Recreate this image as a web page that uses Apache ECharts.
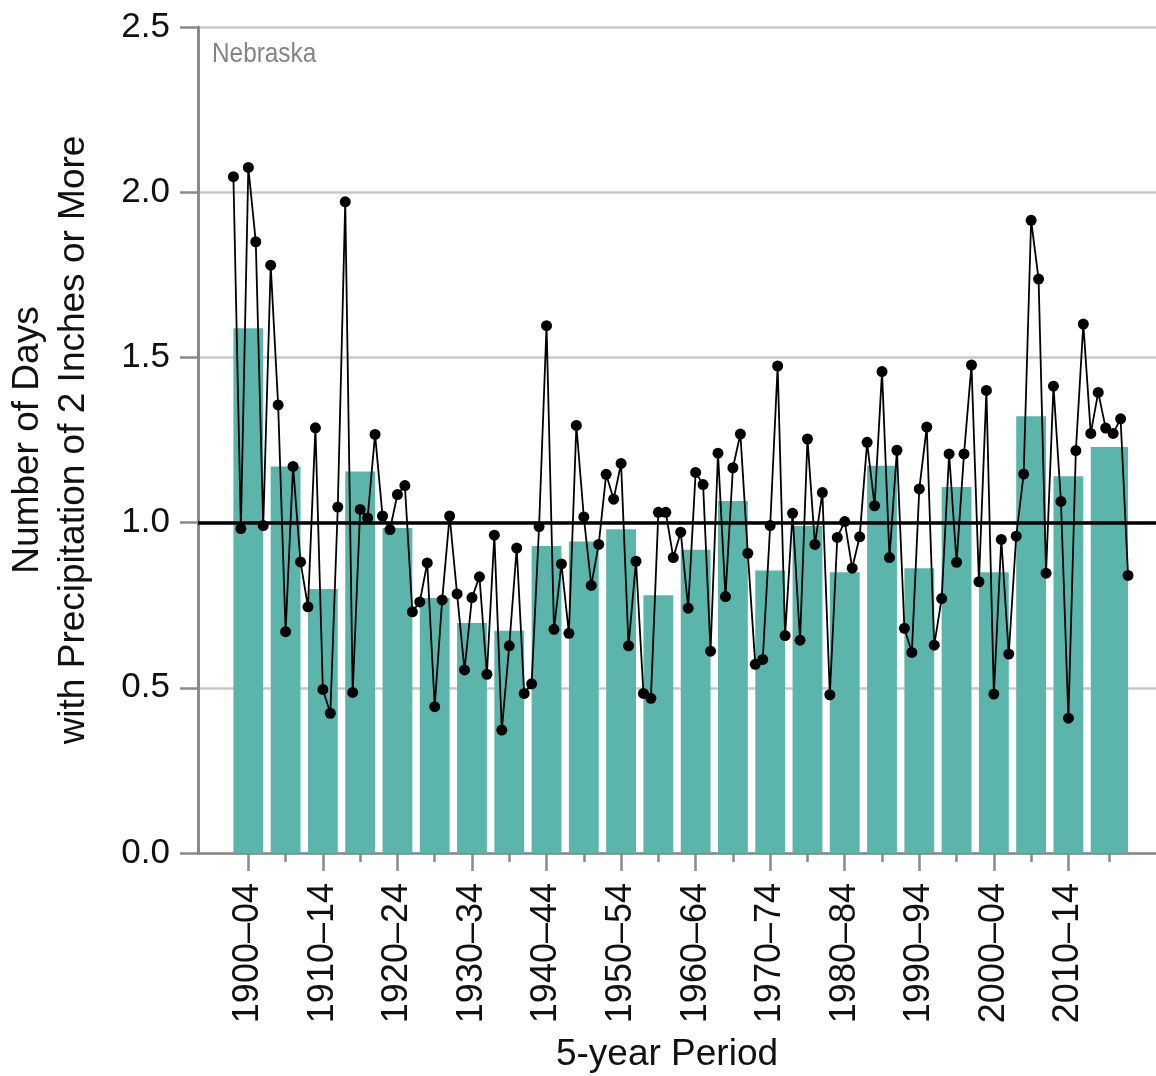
<!DOCTYPE html>
<html>
<head>
<meta charset="utf-8">
<script src="https://cdn.jsdelivr.net/npm/echarts@6/dist/echarts.min.js"></script>
<style>
html,body{margin:0;padding:0;background:#fff;}
#chart{width:1156px;height:1076px;}
</style>
</head>
<body>
<div id="chart"></div>
<script>
// ---- data ----
const stateName = "Nebraska";
const firstYear = 1900;
const annualValues = [
  2.047,0.982,2.075,1.850,0.991, 1.779,1.356,0.670,1.170,0.881,
  0.745,1.287,0.495,0.423,1.047, 1.971,0.486,1.040,1.014,1.267,
  1.020,0.979,1.085,1.112,0.730, 0.760,0.878,0.443,0.766,1.020,
  0.784,0.554,0.773,0.836,0.541, 0.962,0.372,0.627,0.923,0.483,
  0.512,0.988,1.596,0.677,0.875, 0.665,1.294,1.017,0.810,0.934,
  1.146,1.071,1.179,0.627,0.883, 0.483,0.468,1.031,1.031,0.894,
  0.971,0.741,1.152,1.115,0.611, 1.210,0.776,1.166,1.268,0.907,
  0.571,0.586,0.991,1.474,0.658, 1.028,0.644,1.253,0.934,1.091,
  0.479,0.955,1.003,0.862,0.957, 1.243,1.051,1.457,0.894,1.219,
  0.680,0.607,1.102,1.289,0.629, 0.770,1.208,0.880,1.208,1.477,
  0.821,1.400,0.481,0.949,0.602, 0.959,1.147,1.915,1.737,0.847,
  1.413,1.064,0.408,1.218,1.601, 1.270,1.394,1.286,1.270,1.314,
  0.840
];
const periodStarts = [1900,1905,1910,1915,1920,1925,1930,1935,1940,1945,1950,1955,
                      1960,1965,1970,1975,1980,1985,1990,1995,2000,2005,2010,2015];
const periodEnds   = [1904,1909,1914,1919,1924,1929,1934,1939,1944,1949,1954,1959,
                      1964,1969,1974,1979,1984,1989,1994,1999,2004,2009,2014,2020];
const periodValues = [1.588,1.170,0.799,1.155,0.984,0.772,0.696,0.673,0.929,0.943,0.980,0.780,
                      0.918,1.065,0.855,0.990,0.850,1.172,0.862,1.108,0.850,1.322,1.140,1.229];
const xTickLabels = ["1900\u201304","1910\u201314","1920\u201324","1930\u201334","1940\u201344","1950\u201354",
                     "1960\u201364","1970\u201374","1980\u201384","1990\u201394","2000\u201304","2010\u201314"];
const yTicks = [0, 0.5, 1.0, 1.5, 2.0, 2.5];
const referenceValue = 1.0;

// ---- derived ----
const lineData = annualValues.map((v, i) => [firstYear + i, v]);
const barData = periodStarts.map((s, i) => [s, periodEnds[i], periodValues[i]]);
const centers = periodStarts.map((s, i) => (s + periodEnds[i]) / 2);
const majorTicks = centers.filter((c, i) => i % 2 === 0);
const minorTicks = centers.filter((c, i) => i % 2 === 1);
const labelMap = {};
majorTicks.forEach((c, i) => { labelMap[c] = xTickLabels[i]; });

const FONT = '"Liberation Sans", Arial, sans-serif';
const AXIS_GRAY = '#8a8a8a';

const chart = echarts.init(document.getElementById('chart'), null, {renderer: 'canvas'});
chart.setOption({
  animation: false,
  backgroundColor: '#fff',
  textStyle: {fontFamily: FONT},
  grid: {left: 198, top: 27, width: 958, height: 826, containLabel: false, outerBoundsMode: 'none'},
  xAxis: [{
    type: 'value', min: 1895.25, max: 2023.75,
    axisLine: {show: true, onZero: false, lineStyle: {color: AXIS_GRAY, width: 2.5}},
    axisTick: {show: true, customValues: majorTicks, length: 18, lineStyle: {color: AXIS_GRAY, width: 2.5}},
    axisLabel: {show: true, customValues: majorTicks, rotate: 90, margin: 30, fontSize: 36,
                color: '#111', fontFamily: FONT,
                formatter: v => labelMap[v] || ''},
    splitLine: {show: false}
  }, {
    type: 'value', min: 1895.25, max: 2023.75, position: 'bottom',
    axisLine: {show: false},
    axisTick: {show: true, customValues: minorTicks, length: 9, lineStyle: {color: AXIS_GRAY, width: 2.5}},
    axisLabel: {show: false},
    splitLine: {show: false}
  }],
  yAxis: {
    type: 'value', min: yTicks[0], max: yTicks[yTicks.length - 1], interval: 0.5,
    name: 'Number of Days\nwith Precipitation of 2 Inches or More',
    nameLocation: 'middle', nameRotate: 90, nameGap: 101,
    nameTextStyle: {fontSize: 37, lineHeight: 46, color: '#111', fontFamily: FONT},
    axisLine: {show: true, lineStyle: {color: AXIS_GRAY, width: 3}},
    axisTick: {show: true, length: 18, lineStyle: {color: AXIS_GRAY, width: 2.5}},
    axisLabel: {fontSize: 35, margin: 28, color: '#111', fontFamily: FONT, formatter: v => v.toFixed(1)},
    splitLine: {show: true, lineStyle: {color: '#c8c8c8', width: 2.5}}
  },
  graphic: [{
    type: 'text', x: 212, y: 40, z: 100, scaleX: 0.87,
    style: {text: stateName, fontSize: 28, fill: '#848484', fontFamily: FONT}
  }, {
    type: 'text', z: 100, x: 667, y: 1055,
    style: {text: '5-year Period', fontSize: 37, fill: '#111', fontFamily: FONT,
            align: 'center', verticalAlign: 'middle'}
  }],
  series: [{
    type: 'custom', name: 'Periods',
    xAxisIndex: 0,
    data: barData,
    encode: {x: [0, 1], y: 2},
    renderItem: function (params, api) {
      const s = api.value(0), e = api.value(1), v = api.value(2);
      const p0 = api.coord([s, v]);
      const p1 = api.coord([e, 0]);
      return {type: 'rect', shape: {x: p0[0], y: p0[1], width: p1[0] - p0[0], height: p1[1] - p0[1]},
              style: {fill: '#5bb5ab'}};
    },
    z: 2,
    markLine: {
      silent: true, symbol: 'none', label: {show: false},
      lineStyle: {color: '#000', width: 3.5, type: 'solid'},
      data: [{yAxis: referenceValue}]
    }
  }, {
    type: 'line', name: 'Annual',
    xAxisIndex: 0,
    data: lineData,
    symbol: 'circle', symbolSize: 11, showAllSymbol: true,
    itemStyle: {color: '#000'},
    lineStyle: {color: '#000', width: 1.8},
    z: 5
  }]
});
</script>
</body>
</html>
